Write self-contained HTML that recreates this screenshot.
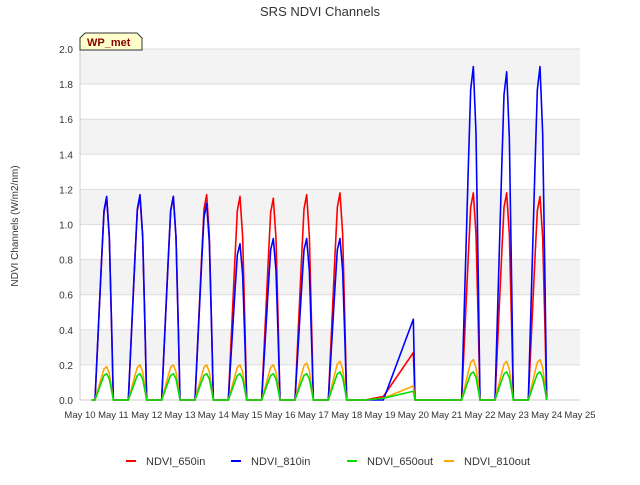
<!DOCTYPE html>
<html><head><meta charset="utf-8"><style>
body{margin:0;background:#fff;font-family:"Liberation Sans",sans-serif}
</style></head><body>
<svg width="640" height="480" viewBox="0 0 640 480" xmlns="http://www.w3.org/2000/svg" font-family="Liberation Sans, sans-serif">
<text x="320" y="16" text-anchor="middle" font-size="13" fill="#333">SRS NDVI Channels</text>
<g id="plot"></g>
<text transform="translate(18,226) rotate(-90)" text-anchor="middle" font-size="10" fill="#333">NDVI Channels (W/m2/nm)</text>
<g>
<path d="M80,50 L80,38 L85,33 L137,33 L142,38 L142,50 Z" fill="#ffffcc" stroke="#333" stroke-width="1"/>
<text x="87" y="46" font-size="11" font-weight="bold" fill="#8b0000">WP_met</text>
</g>
<g id="legend"></g>
</svg>
<script>
const dayLabels=["May 10","May 11","May 12","May 13","May 14","May 15","May 16","May 17","May 18","May 19","May 20","May 21","May 22","May 23","May 24","May 25"];
const yTicks=[0,0.2,0.4,0.6,0.8,1.0,1.2,1.4,1.6,1.8,2.0];
const peakDays=[0,1,2,3,4,5,6,7,11,12,13];
const profileOffsets=[0.45,0.55,0.65,0.72,0.8,0.88,0.95,1.0];
const profileFractions=[0,0.35,0.7,0.93,1,0.8,0.35,0];
const peaks650in=[1.15,1.16,1.16,1.17,1.16,1.15,1.17,1.18,1.18,1.18,1.16];
const peaks810in=[1.16,1.17,1.16,1.12,0.89,0.92,0.92,0.92,1.90,1.87,1.90];
const peaks650out=[0.15,0.15,0.15,0.15,0.15,0.15,0.15,0.16,0.16,0.16,0.16];
const peaks810out=[0.19,0.20,0.20,0.20,0.20,0.20,0.21,0.22,0.23,0.22,0.23];
const gapDays=[8.55,9.1,10.0,10.05];
const gap650in=[0,0.02,0.27,0];
const gap810in=[0,0,0.46,0];
const gap650out=[0,0.01,0.05,0];
const gap810out=[0,0.01,0.08,0];
const seriesNames=["NDVI_650in","NDVI_810in","NDVI_650out","NDVI_810out"];
const seriesColors=["#ff0000","#0000ff","#00dd00","#ffa500"];
const NS="http://www.w3.org/2000/svg";
const L=80,R=580,T=49,B=400;
const xs=d=>L+d*(R-L)/15;
const ys=v=>B-v*(B-T)/2;
const plot=document.getElementById('plot');
function mk(t,a,p){const e=document.createElementNS(NS,t);for(const k in a)e.setAttribute(k,a[k]);(p||plot).appendChild(e);return e;}
for(let i=1;i<10;i+=2){const r=mk('rect',{x:L,y:ys(yTicks[i+1]),width:R-L,height:ys(yTicks[i])-ys(yTicks[i+1]),fill:'#f3f3f3'});
}
yTicks.forEach(v=>{const g=mk('line',{x1:L,x2:R,y1:ys(v),y2:ys(v),stroke:'#ddd'});

const t=mk('text',{x:L-7,y:ys(v)+4,'text-anchor':'end','font-size':10,fill:'#333'});t.textContent=v.toFixed(1);
});
mk('line',{x1:L,x2:L,y1:T,y2:B,stroke:'#ccc'});
mk('line',{x1:L,x2:R,y1:B,y2:B,stroke:'#ccc'});
dayLabels.forEach((d,i)=>{const t=mk('text',{x:xs(i),y:B+18,'text-anchor':'middle','font-size':9.5,fill:'#333'});t.textContent=d;
});
const peakSets=[peaks650in,peaks810in,peaks650out,peaks810out];
const gapSets=[gap650in,gap810in,gap650out,gap810out];
const drawOrder=[0,1,3,2];
drawOrder.forEach(s=>{
 let pts=[[xs(0.35),ys(0)]];
 const addDay=(k)=>{profileOffsets.forEach((o,j)=>pts.push([xs(peakDays[k]+o),ys(peakSets[s][k]*profileFractions[j])]));};
 for(let k=0;k<8;k++)addDay(k);
 gapDays.forEach((d,j)=>pts.push([xs(d),ys(gapSets[s][j])]));
 for(let k=8;k<11;k++)addDay(k);
 const p=mk('polyline',{points:pts.map(p=>p.join(',')).join(' '),fill:'none',stroke:seriesColors[s],'stroke-width':1.6,'stroke-linejoin':'round'});
 
 
});
const lg=document.getElementById('legend');
const lx=[126,231,347,444];
seriesNames.forEach((n,i)=>{
 const g=mk('g',{},lg);
 
 mk('line',{x1:lx[i],x2:lx[i]+10,y1:461,y2:461,stroke:seriesColors[i],'stroke-width':2},g);
 const t=mk('text',{x:lx[i]+20,y:465,'font-size':11,fill:'#333'},g);t.textContent=n;
});
</script>
</body></html>
